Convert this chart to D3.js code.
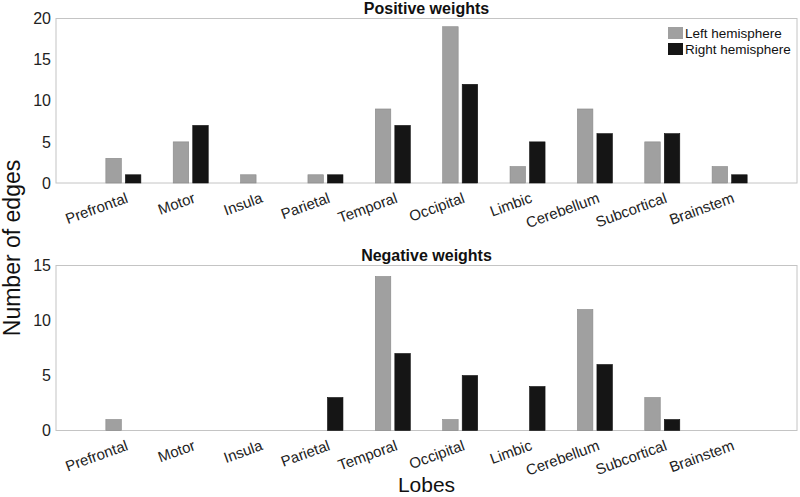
<!DOCTYPE html>
<html>
<head>
<meta charset="utf-8">
<script src="https://cdn.jsdelivr.net/npm/d3@7"></script>
<style>
  body { margin: 0; background: #fff; }
  svg { font-family: "Liberation Sans", Arial, Helvetica, sans-serif; }
</style>
</head>
<body>
<svg id="chart" width="800" height="497"></svg>
<script>
const lobes = ["Prefrontal","Motor","Insula","Parietal","Temporal","Occipital","Limbic","Cerebellum","Subcortical","Brainstem"];
const posLeft  = [3, 5, 1, 1, 9, 19, 2, 9, 5, 2];
const posRight = [1, 7, 0, 1, 7, 12, 5, 6, 6, 1];
const negLeft  = [1, 0, 0, 0, 14, 1, 0, 11, 3, 0];
const negRight = [0, 0, 0, 3, 7, 5, 4, 6, 1, 0];
const posTicks = [0, 5, 10, 15, 20];
const negTicks = [0, 5, 10, 15];
const seriesNames = ["Left hemisphere", "Right hemisphere"];
const seriesColors = ["#a0a0a0", "#151515"];

const FONT = "'Liberation Sans', Arial, Helvetica, sans-serif";
const svg = d3.select("#chart");
const left = 56, right = 797;
const x = d3.scaleLinear().domain([0, lobes.length + 1]).range([left, right]);
const offset = 0.145, bw = x(0.23) - x(0);

function panel(top, bottom, yMax, ticks, lv, rv, title, legend) {
  const y = d3.scaleLinear().domain([0, yMax]).range([bottom, top]);
  const g = svg.append("g");
  g.append("rect").attr("x", left).attr("y", top).attr("width", right - left).attr("height", bottom - top)
    .attr("fill", "#fff").attr("stroke", "#c4c4c4").attr("stroke-width", 1);
  const ya = d3.axisLeft(y).tickValues(ticks).tickSize(0).tickPadding(5);
  const yg = g.append("g").attr("transform", `translate(${left},0)`).call(ya);
  yg.select(".domain").remove();
  yg.selectAll("text").attr("font-size", 16).attr("fill", "#222").style("font-family", FONT);
  const data = lobes.map((l, i) => ({l, i, a: lv[i], b: rv[i]}));
  [[ "a", -offset, 0 ], [ "b", offset, 1 ]].forEach(([k, off, si]) => {
    g.selectAll(null).data(data.filter(d => d[k] > 0)).enter().append("rect")
      .attr("x", d => x(d.i + 1 + off) - bw / 2)
      .attr("y", d => y(d[k]))
      .attr("width", bw)
      .attr("height", d => y(0) - y(d[k]))
      .attr("fill", seriesColors[si])
      .attr("stroke", si === 0 ? "#888" : "#111").attr("stroke-width", 0.6);
  });
  const xa = d3.axisBottom(x).tickValues(d3.range(1, lobes.length + 1)).tickSize(0).tickFormat(d => lobes[d - 1]);
  const xg = g.append("g").attr("transform", `translate(0,${bottom})`).call(xa);
  xg.select(".domain").remove();
  xg.selectAll("text")
    .attr("font-size", 15).attr("fill", "#222").style("font-family", FONT)
    .attr("text-anchor", "end").attr("dy", null).attr("y", 0)
    .attr("transform", "translate(5,19) rotate(-20)");
  g.append("text").attr("x", (left + right) / 2).attr("y", top - 5).attr("text-anchor", "middle")
    .attr("font-size", 16).attr("font-weight", "bold").attr("fill", "#111").text(title);
  if (legend) {
    seriesNames.forEach((n, i) => {
      g.append("rect").attr("x", 668).attr("y", 27 + i * 16).attr("width", 15).attr("height", 12).attr("fill", seriesColors[i]);
      g.append("text").attr("x", 685).attr("y", 38 + i * 16).attr("font-size", 13.5).attr("fill", "#111").text(n);
    });
  }
}

panel(18.5, 183, 20, posTicks, posLeft, posRight, "Positive weights", true);
panel(265.5, 430.5, 15, negTicks, negLeft, negRight, "Negative weights", false);

svg.append("text").attr("transform", "translate(20,248) rotate(-90)").attr("text-anchor", "middle")
  .attr("font-size", 23).attr("fill", "#111").text("Number of edges");
svg.append("text").attr("x", (left + right) / 2).attr("y", 492).attr("text-anchor", "middle")
  .attr("font-size", 21).attr("fill", "#111").text("Lobes");
</script>
</body>
</html>
